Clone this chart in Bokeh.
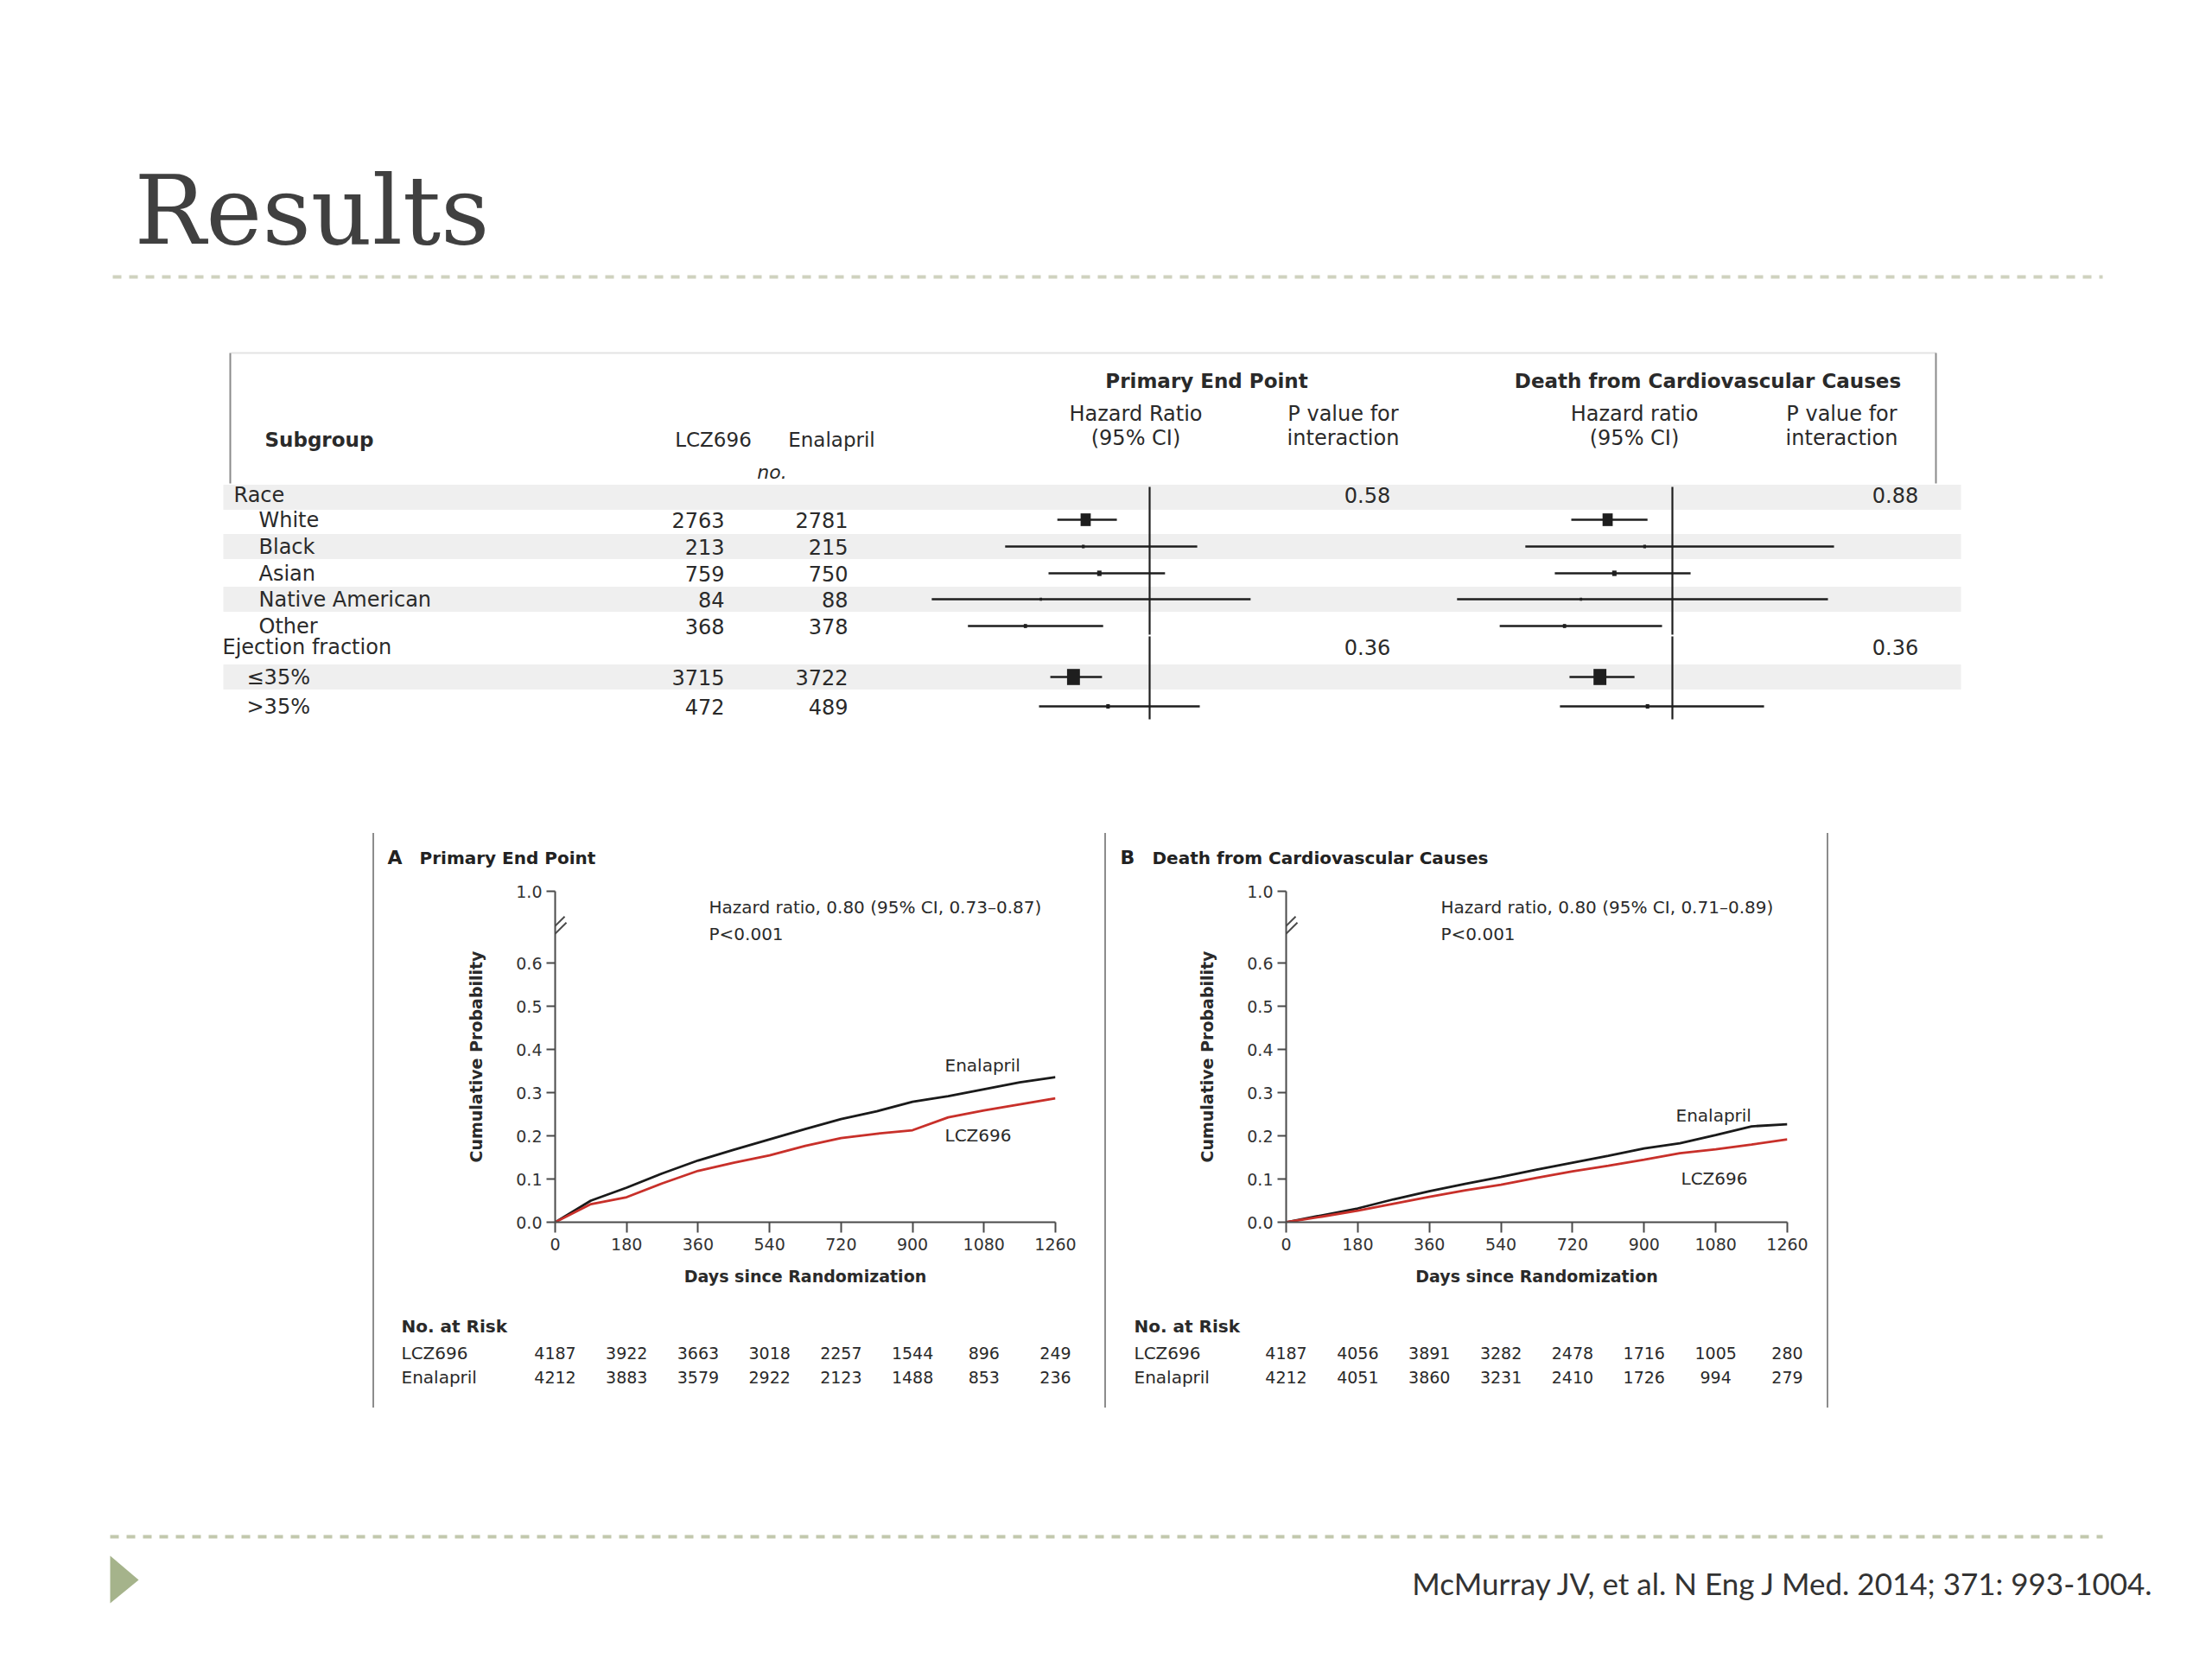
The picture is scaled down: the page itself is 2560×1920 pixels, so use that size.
import numpy as np
from bokeh.plotting import figure
from bokeh.models import (ColumnDataSource, Range1d, LogScale, FixedTicker,
                          PrintfTickFormatter, Spacer)
from bokeh.layouts import column, row
from bokeh.core.properties import value
from bokeh.embed import file_html
from bokeh.resources import INLINE

# ---------------- data ----------------
slide_title = "Results"
citation = "McMurray JV, et al. N Eng J Med. 2014; 371: 993-1004."

group_headers = ["Race", "Ejection fraction"]
subgroups = ["White", "Black", "Asian", "Native American", "Other", "≤35%", ">35%"]
n_lcz696 = [2763, 213, 759, 84, 368, 3715, 472]
n_enalapril = [2781, 215, 750, 88, 378, 3722, 489]

pep_hr = [0.823, 0.817, 0.858, 0.718, 0.685, 0.793, 0.881]
pep_lo = [0.755, 0.644, 0.735, 0.515, 0.575, 0.739, 0.714]
pep_hi = [0.905, 1.156, 1.048, 1.360, 0.868, 0.865, 1.165]
cvd_hr = [0.821, 0.919, 0.838, 0.757, 0.720, 0.802, 0.927]
cvd_lo = [0.735, 0.639, 0.699, 0.519, 0.591, 0.731, 0.710]
cvd_hi = [0.927, 1.636, 1.057, 1.606, 0.969, 0.891, 1.322]
p_int_pep = ["0.58", "0.36"]
p_int_cvd = ["0.88", "0.36"]

km_days = [0, 90, 180, 270, 360, 450, 540, 630, 720, 810, 900, 990, 1080, 1170, 1260]
a_enalapril = [0, 0.050, 0.080, 0.113, 0.143, 0.168, 0.192, 0.216, 0.239, 0.257, 0.279, 0.292, 0.308, 0.324, 0.336]
a_lcz696 = [0, 0.042, 0.058, 0.090, 0.119, 0.138, 0.155, 0.177, 0.195, 0.205, 0.213, 0.243, 0.259, 0.273, 0.287]
b_enalapril = [0, 0.016, 0.032, 0.053, 0.072, 0.089, 0.105, 0.122, 0.138, 0.154, 0.171, 0.183, 0.202, 0.222, 0.227]
b_lcz696 = [0, 0.013, 0.027, 0.043, 0.059, 0.074, 0.087, 0.103, 0.118, 0.131, 0.145, 0.160, 0.169, 0.180, 0.192]

x_ticks = [0, 180, 360, 540, 720, 900, 1080, 1260]
y_ticks = [0, 0.1, 0.2, 0.3, 0.4, 0.5, 0.6]
a_risk_lcz696 = [4187, 3922, 3663, 3018, 2257, 1544, 896, 249]
a_risk_enalapril = [4212, 3883, 3579, 2922, 2123, 1488, 853, 236]
b_risk_lcz696 = [4187, 4056, 3891, 3282, 2478, 1716, 1005, 280]
b_risk_enalapril = [4212, 4051, 3860, 3231, 2410, 1726, 994, 279]
a_title = ("A", "Primary End Point")
b_title = ("B", "Death from Cardiovascular Causes")
a_hr_text = ["Hazard ratio, 0.80 (95% CI, 0.73\u20130.87)", "P<0.001"]
b_hr_text = ["Hazard ratio, 0.80 (95% CI, 0.71\u20130.89)", "P<0.001"]
risk_rows = ["LCZ696", "Enalapril"]

# ---------------- styles / layout (reference pixel coordinates) ----------------
SANS = "DejaVu Sans"
TXT = "#2a2a2a"
W = 2552
TOP_H = 955
ROW_TOP, ROW_H = 955, 685
HEAD_B, KM_B = 1012, 1510          # KM column: head 955..1012, plot 1012..1510, risk 1510..1640
FOOT_TOP, FOOT_H = 1640, 272

def t(p, x, y, s, size, align="left", style="normal", font=SANS, color=TXT,
      baseline="middle", **kw):
    p.text(x=[x], y=[y], text=[s], text_font=value(font), text_font_size=value(size),
           text_font_style=value(style), text_align=value(align),
           text_baseline=value(baseline), text_color=color, **kw)

def canvas(width, height, xr, yr):
    p = figure(width=width, height=height, x_range=xr, y_range=yr, output_backend="svg",
               toolbar_location=None, x_axis_location=None, y_axis_location=None,
               min_border=0, outline_line_color=None)
    p.grid.visible = False
    return p

# ======== top figure: title + forest table ========
top = canvas(W, TOP_H, Range1d(0, W), Range1d(TOP_H, 0))

t(top, 155, 243, slide_title, "110px", font="DejaVu Serif", color="#404040")
top.line([130, 2433], [320, 320], line_color="#cfd2bf", line_width=4, line_dash="10 9")

# table frame
top.line([267, 2240], [408, 408], line_color="#e4e4e4", line_width=2)
top.segment(x0=[266, 2240], y0=[408, 408], x1=[266, 2240], y1=[559, 559],
            line_color="#8a8a8a", line_width=2)

row_y = [601, 632, 663, 693, 724, 783, 817]
head_y = [572, 748]
band_y = [575, 632, 693, 783]
top.quad(left=258, right=2269, top=[y - 14.5 for y in band_y], bottom=[y + 14.5 for y in band_y],
         fill_color="#efefef", line_color=None)

# headers
t(top, 306, 508, "Subgroup", "23px", style="bold")
t(top, 825, 508, "LCZ696", "23px", align="center")
t(top, 962, 508, "Enalapril", "23px", align="center")
t(top, 893, 546, "no.", "22px", align="center", style="italic")
t(top, 1396, 440, "Primary End Point", "23px", align="center", style="bold")
t(top, 1976, 440, "Death from Cardiovascular Causes", "23px", align="center", style="bold")
for cx, l1 in [(1314, "Hazard Ratio"), (1891, "Hazard ratio")]:
    t(top, cx, 478, l1, "24px", align="center")
    t(top, cx, 506, "(95% CI)", "24px", align="center")
for cx in (1554, 2131):
    t(top, cx, 478, "P value for", "24px", align="center")
    t(top, cx, 506, "interaction", "24px", align="center")

# rows
top.text(x=[270, 257], y=head_y, text=group_headers, text_font=value(SANS),
         text_font_size=value("24px"), text_baseline="middle", text_color=TXT)
src = ColumnDataSource(dict(
    name=subgroups, y=row_y, lx=[299] * 5 + [285] * 2,
    nl=[str(v) for v in n_lcz696], ne=[str(v) for v in n_enalapril],
    pep_hr=pep_hr, pep_lo=pep_lo, pep_hi=pep_hi,
    cvd_hr=cvd_hr, cvd_lo=cvd_lo, cvd_hi=cvd_hi,
    w=[2.5 + (a + b) / 600 for a, b in zip(n_lcz696, n_enalapril)],
    h=[1.25 * (2.5 + (a + b) / 600) for a, b in zip(n_lcz696, n_enalapril)],
))
common = dict(source=src, text_font=value(SANS), text_font_size=value("24px"),
              text_baseline="middle", text_color=TXT)
top.text(x="lx", y="y", text="name", **common)
top.text(x=838, y="y", text="nl", text_align="right", **common)
top.text(x=981, y="y", text="ne", text_align="right", **common)
top.text(x=1582, y=head_y, text=p_int_pep, text_font=value(SANS), text_font_size=value("24px"),
         text_baseline="middle", text_align="center", text_color=TXT)
top.text(x=2193, y=head_y, text=p_int_cvd, text_font=value(SANS), text_font_size=value("24px"),
         text_baseline="middle", text_align="center", text_color=TXT)

# forest panels on log hazard-ratio scales
K = 380.0
REF = {"pep": 1330, "cvd": 1935}
top.extra_x_ranges = {k: Range1d(float(np.exp((0 - xr) / K)), float(np.exp((W - xr) / K)))
                      for k, xr in REF.items()}
top.extra_x_scales = {k: LogScale() for k in REF}
for k in REF:
    top.segment(x0=[1, 1], y0=[563, 736], x1=[1, 1], y1=[734, 832], x_range_name=k,
                line_color="#1e1e1e", line_width=2.2)
    top.segment(x0=k + "_lo", y0="y", x1=k + "_hi", y1="y", source=src, x_range_name=k,
                line_color="#1e1e1e", line_width=2.6)
    top.rect(x=k + "_hr", y="y", width="w", height="h", width_units="screen",
             height_units="screen", source=src, x_range_name=k,
             fill_color="#1e1e1e", line_color=None)

# ======== Kaplan-Meier panels ========
Y_ZERO, Y_ONE, PXU = 1414, 1031, 500.0
YTOP = (Y_ZERO - Y_ONE) / PXU

def km_panel(fig_l, fig_r, ax_l, ax_r, titles, hr_text, hr_x, ena, lcz, r_l, r_e,
             ena_lab, lcz_lab, label_x):
    w = fig_r - fig_l
    pxd = (ax_r - ax_l) / 1260.0
    dx = lambda X: (X - ax_l) / pxd
    dy = lambda Y: (Y_ZERO - Y) / PXU

    # panel heading
    head = canvas(w, HEAD_B - ROW_TOP, Range1d(fig_l, fig_r), Range1d(HEAD_B, ROW_TOP))
    t(head, titles[0][0], 992, titles[0][1], "22px", style="bold", color="#222222")
    t(head, titles[1][0], 992, titles[1][1], "20px", style="bold", color="#222222")

    # survival plot
    p = figure(width=w, height=KM_B - HEAD_B, x_range=Range1d(0, 1260),
               y_range=Range1d(0, YTOP + 0.0004), output_backend="svg", toolbar_location=None,
               min_border_left=ax_l - fig_l, min_border_right=fig_r - ax_r,
               min_border_top=Y_ONE - HEAD_B, min_border_bottom=KM_B - Y_ZERO,
               outline_line_color=None)
    p.grid.visible = False
    for ax in (p.xaxis, p.yaxis):
        ax.axis_line_color = "#4a4a4a"
        ax.axis_line_width = 2
        ax.major_tick_line_color = "#4a4a4a"
        ax.major_tick_line_width = 2
        ax.minor_tick_line_color = None
        ax.major_tick_in = 0
        ax.major_label_text_font = SANS
        ax.major_label_text_font_size = "19px"
        ax.major_label_text_color = "#333333"
        ax.axis_label_text_font = SANS
        ax.axis_label_text_font_size = "19px"
        ax.axis_label_text_font_style = "bold"
        ax.axis_label_text_color = "#2a2a2a"
    p.xaxis.ticker = FixedTicker(ticks=x_ticks)
    p.xaxis.major_tick_out = 12
    p.xaxis.major_label_standoff = 6
    p.xaxis.axis_label = "Days since Randomization"
    p.xaxis.axis_label_standoff = 16
    p.yaxis.ticker = FixedTicker(ticks=y_ticks + [YTOP])
    p.yaxis.formatter = PrintfTickFormatter(format="%.1f")
    p.yaxis.major_label_overrides = {YTOP: "1.0"}
    p.yaxis.major_tick_out = 10
    p.yaxis.major_label_standoff = 5
    p.yaxis.axis_label = "Cumulative Probability"
    p.yaxis.axis_label_standoff = 32

    # axis-break marks (the part inside the plot frame)
    p.segment(x0=[dx(ax_l - 10), dx(ax_l - 8)], y0=[dy(1081), dy(1088)],
              x1=[dx(ax_l + 11), dx(ax_l + 13)], y1=[dy(1060), dy(1067)],
              line_color="#4a4a4a", line_width=2)

    p.line(km_days, ena, line_color="#1a1a1a", line_width=2.8)
    p.line(km_days, lcz, line_color="#c8302a", line_width=2.8)

    t(p, dx(hr_x), dy(1049), hr_text[0], "20px")
    t(p, dx(hr_x), dy(1080), hr_text[1], "20px")
    t(p, dx(ena_lab[0]), dy(ena_lab[1]), "Enalapril", "20px")
    t(p, dx(lcz_lab[0]), dy(lcz_lab[1]), "LCZ696", "20px")

    # numbers at risk, on the same day scale
    risk = canvas(w, ROW_TOP + ROW_H - KM_B, Range1d(dx(fig_l), dx(fig_r)),
                  Range1d(ROW_TOP + ROW_H, KM_B))
    t(risk, dx(label_x), 1534, "No. at Risk", "20px", style="bold")
    risk.text(x=[dx(label_x)] * 2, y=[1565, 1593], text=risk_rows, text_font=value(SANS),
              text_font_size=value("20px"), text_baseline="middle", text_color=TXT)
    rs = ColumnDataSource(dict(x=x_ticks + x_ticks,
                               y=[1565] * len(x_ticks) + [1593] * len(x_ticks),
                               s=[str(v) for v in r_l] + [str(v) for v in r_e]))
    risk.text(x="x", y="y", text="s", source=rs, text_align="center", text_baseline="middle",
              text_font=value(SANS), text_font_size=value("19px"), text_color=TXT)
    # wrap each in its own row so the frames are not aligned with each other
    return column(row(head), row(p), row(risk))

colA = km_panel(433, 1278, 642, 1221, [(448, a_title[0]), (485, a_title[1])], a_hr_text, 820,
                a_enalapril, a_lcz696, a_risk_lcz696, a_risk_enalapril,
                (1093, 1232), (1093, 1313), 464)
colB = km_panel(1280, 2114, 1488, 2068, [(1296, b_title[0]), (1333, b_title[1])], b_hr_text, 1667,
                b_enalapril, b_lcz696, b_risk_lcz696, b_risk_enalapril,
                (1939, 1290), (1945, 1363), 1312)

def sep():
    return column(Spacer(width=2, height=9),
                  Spacer(width=2, height=665, styles={"background-color": "#8c8c8c"}))

km_row = row(Spacer(width=431, height=ROW_H), sep(), colA, sep(), colB, sep(),
             Spacer(width=W - 2116, height=ROW_H))

# ======== footer ========
foot = canvas(W, FOOT_H, Range1d(0, W), Range1d(FOOT_TOP + FOOT_H, FOOT_TOP))
foot.line([127, 2433], [1778, 1778], line_color="#c2c8ad", line_width=4, line_dash="10 9")
foot.patch([127, 160, 127], [1800, 1828, 1855], fill_color="#a5b38b", line_color=None)
t(foot, 2493, 1831, citation, "35px", align="right", font="Lato", color="#333333")

layout = column(top, km_row, foot)
open("out.html", "w").write(file_html(layout, INLINE))
